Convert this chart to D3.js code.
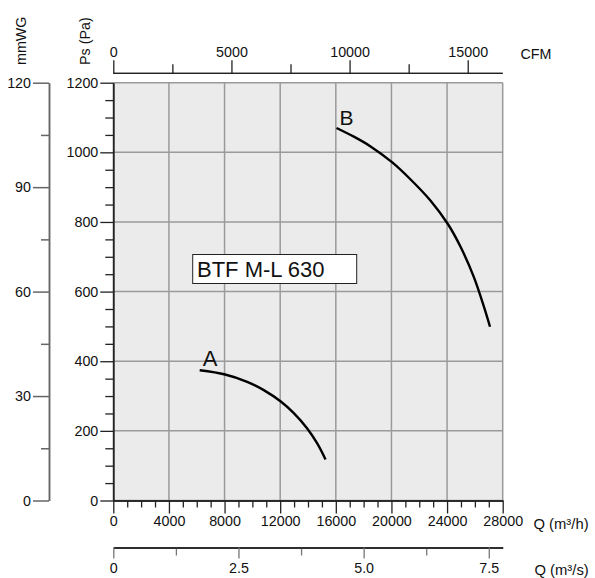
<!DOCTYPE html>
<html>
<head>
<meta charset="utf-8">
<script src="https://cdn.jsdelivr.net/npm/d3@7"></script>
<style>
  html, body { margin: 0; padding: 0; background: #ffffff; }
  svg { display: block; font-family: "Liberation Sans", Arial, sans-serif; }
</style>
</head>
<body>
<svg id="chart" width="595" height="578"></svg>
<script>
// ---- data ----
const curveNames = ["A", "B"];
const qA = [6212, 8040, 9624, 10819, 12021, 12978, 13943, 14663, 15260];
const psA = [374, 362, 341, 317, 285, 251, 207, 164, 118];
const qB = [16051, 17297, 18499, 20061, 21378, 22817, 24091, 24977, 25934, 26654, 27087];
const psB = [1070, 1045, 1017, 971, 922, 861, 792, 728, 641, 556, 499];
const modelLabel = "BTF M-L 630";
const qTicksMajor = [0, 4000, 8000, 12000, 16000, 20000, 24000, 28000];
const psTicksMajor = [0, 200, 400, 600, 800, 1000, 1200];
const mmTicksMajor = [0, 30, 60, 90, 120];
const cfmTicksMajor = [0, 5000, 10000, 15000];
const m3sTicksMajor = [0, 2.5, 5.0, 7.5];
const m3sTickLabels = ["0", "2.5", "5.0", "7.5"];

// ---- layout ----
const svg = d3.select("#chart");
const X0 = 113.3, X1 = 502.7, Y0 = 500.5, Y1 = 82.7;
const x = d3.scaleLinear().domain([0, 28000]).range([X0, X1]);
const y = d3.scaleLinear().domain([0, 1200]).range([Y0, Y1]);
const yMm = d3.scaleLinear().domain([0, 120]).range([Y0, Y1]);
const xCfm = d3.scaleLinear().domain([0, 28000 / 1.69901]).range([X0, X1]);
const xM3s = d3.scaleLinear().domain([0, 28000 / 3600]).range([X0, X1]);

const gridColor = "#9a9a9a";
const axisColor = "#222";
const fontSize = 14.3;

// plot background
svg.append("rect").attr("x", X0).attr("y", Y1)
  .attr("width", X1 - X0).attr("height", Y0 - Y1).attr("fill", "#ebebeb");

// grid
const grid = svg.append("g");
grid.selectAll("line.v").data(qTicksMajor).join("line")
  .attr("x1", d => x(d)).attr("x2", d => x(d)).attr("y1", Y1).attr("y2", Y0)
  .attr("stroke", gridColor).attr("stroke-width", 1.5);
grid.selectAll("line.h").data(psTicksMajor).join("line")
  .attr("x1", X0).attr("x2", X1).attr("y1", d => y(d)).attr("y2", d => y(d))
  .attr("stroke", gridColor).attr("stroke-width", 1.5);

function styleAxis(g, color, sw) {
  g.selectAll("path.domain").attr("stroke", color).attr("stroke-width", sw);
  g.selectAll(".tick line").attr("stroke", color).attr("stroke-width", sw);
  g.selectAll(".tick text").attr("fill", "#111").attr("font-size", fontSize)
    .attr("font-family", '"Liberation Sans", Arial, sans-serif');
}

// Ps axis (left)
const psMinor = d3.range(0, 1201, 50).filter(v => v % 200 !== 0);
const gPsMin = svg.append("g").attr("transform", `translate(${X0},0)`)
  .call(d3.axisLeft(y).tickValues(psMinor).tickFormat("").tickSize(8).tickSizeOuter(0));
styleAxis(gPsMin, axisColor, 1.3);
const gPs = svg.append("g").attr("transform", `translate(${X0},0)`)
  .call(d3.axisLeft(y).tickValues(psTicksMajor).tickFormat(d3.format("d")).tickSize(13).tickSizeOuter(0).tickPadding(2));
styleAxis(gPs, axisColor, 1.3);

// mmWG axis
const mmX = 49;
const mmMinor = [15, 45, 75, 105];
const gMmMin = svg.append("g").attr("transform", `translate(${mmX},0)`)
  .call(d3.axisLeft(yMm).tickValues(mmMinor).tickFormat("").tickSize(8).tickSizeOuter(0));
styleAxis(gMmMin, "#666", 1.5);
const gMm = svg.append("g").attr("transform", `translate(${mmX},0)`)
  .call(d3.axisLeft(yMm).tickValues(mmTicksMajor).tickFormat(d3.format("d")).tickSize(16).tickSizeOuter(0).tickPadding(2));
styleAxis(gMm, "#666", 1.5);

// Q m3/h axis (bottom)
const qMinor = d3.range(0, 28001, 1000).filter(v => v % 4000 !== 0);
const gQMin = svg.append("g").attr("transform", `translate(0,${Y0})`)
  .call(d3.axisBottom(x).tickValues(qMinor).tickFormat("").tickSize(7).tickSizeOuter(0));
styleAxis(gQMin, axisColor, 1.3);
const gQ = svg.append("g").attr("transform", `translate(0,${Y0})`)
  .call(d3.axisBottom(x).tickValues(qTicksMajor).tickFormat(d3.format("d")).tickSize(13).tickSizeOuter(0).tickPadding(2));
styleAxis(gQ, axisColor, 1.3);

// Q m3/s axis
const m3sY = 547.5;
const m3sMinor = [1.25, 3.75, 6.25];
const gSMin = svg.append("g").attr("transform", `translate(0,${m3sY})`)
  .call(d3.axisBottom(xM3s).tickValues(m3sMinor).tickFormat("").tickSize(8).tickSizeOuter(0));
styleAxis(gSMin, axisColor, 1.3);
gSMin.selectAll(".tick line").attr("stroke", "#777");
const gS = svg.append("g").attr("transform", `translate(0,${m3sY})`)
  .call(d3.axisBottom(xM3s).tickValues(m3sTicksMajor).tickFormat((d, i) => m3sTickLabels[i]).tickSize(11).tickSizeOuter(0).tickPadding(4));
styleAxis(gS, axisColor, 1.3);
gS.selectAll(".tick line").attr("stroke", "#777");

// CFM axis (top)
const cfmY = 73.3;
const cfmMinor = [2500, 7500, 12500];
const gCMin = svg.append("g").attr("transform", `translate(0,${cfmY})`)
  .call(d3.axisTop(xCfm).tickValues(cfmMinor).tickFormat("").tickSize(9).tickSizeOuter(0));
styleAxis(gCMin, axisColor, 1.3);
gCMin.select("path.domain").attr("d", `M${X0},0H${X1}`);
const gC = svg.append("g").attr("transform", `translate(0,${cfmY})`)
  .call(d3.axisTop(xCfm).tickValues(cfmTicksMajor).tickFormat(d3.format("d")).tickSize(13).tickSizeOuter(0).tickPadding(3));
styleAxis(gC, axisColor, 1.3);
gC.select("path.domain").attr("d", `M${X0},0H${X1}`);

// axis titles
const tf = '"Liberation Sans", Arial, sans-serif';
svg.append("text").attr("transform", "translate(26,65) rotate(-90)")
  .attr("font-size", fontSize).attr("font-family", tf).attr("fill", "#111").text("mmWG");
svg.append("text").attr("transform", "translate(90,65) rotate(-90)")
  .attr("font-size", fontSize).attr("font-family", tf).attr("fill", "#111").text("Ps (Pa)");
svg.append("text").attr("x", 520.5).attr("y", 58.5)
  .attr("font-size", fontSize).attr("font-family", tf).attr("fill", "#111").text("CFM");
svg.append("text").attr("x", 533.5).attr("y", 529)
  .attr("font-size", fontSize + 0.5).attr("font-family", tf).attr("fill", "#111").text("Q (m³/h)");
svg.append("text").attr("x", 534.5).attr("y", 575)
  .attr("font-size", fontSize + 0.5).attr("font-family", tf).attr("fill", "#111").text("Q (m³/s)");

// curves
const line = d3.line().x(d => x(d[0])).y(d => y(d[1])).curve(d3.curveCatmullRom.alpha(0.5));
const dataA = qA.map((q, i) => [q, psA[i]]);
const dataB = qB.map((q, i) => [q, psB[i]]);
[dataA, dataB].forEach(dd => {
  svg.append("path").datum(dd).attr("d", line)
    .attr("fill", "none").attr("stroke", "#000").attr("stroke-width", 2.4);
});
// curve labels
svg.append("text").attr("x", x(qA[0]) + 3).attr("y", y(psA[0]) - 4)
  .attr("font-size", 22).attr("font-family", tf).attr("fill", "#111").text(curveNames[0]);
svg.append("text").attr("x", x(qB[0]) + 3).attr("y", y(psB[0]) - 3)
  .attr("font-size", 21).attr("font-family", tf).attr("fill", "#111").text(curveNames[1]);

// model label box
svg.append("rect").attr("x", 192.7).attr("y", 254.5).attr("width", 164).attr("height", 29)
  .attr("fill", "#fff").attr("stroke", "#222").attr("stroke-width", 1);
svg.append("text").attr("x", 197).attr("y", 276.5)
  .attr("font-size", 22).attr("font-family", tf).attr("fill", "#111").text(modelLabel);
</script>
</body>
</html>
